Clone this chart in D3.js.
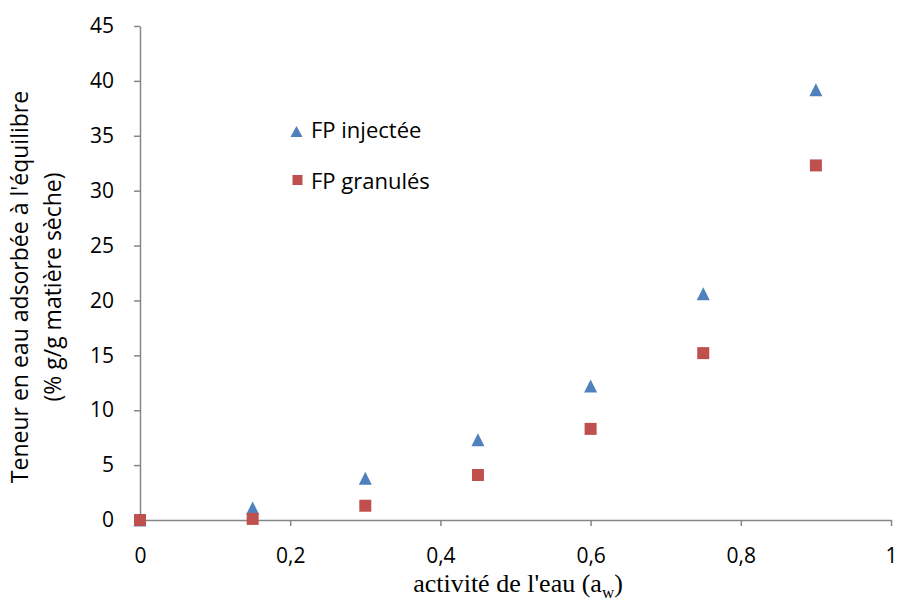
<!DOCTYPE html>
<html>
<head>
<meta charset="utf-8">
<script src="https://cdn.jsdelivr.net/npm/d3@7"></script>
<style>
  body { margin: 0; background: #fff; }
  text { font-family: "Open Sans", "Lato", sans-serif; }
</style>
</head>
<body>
<div id="chart"></div>
<script>
// data
const aw = [0, 0.15, 0.3, 0.45, 0.6, 0.75, 0.9];
const injectee = [0, 1.1, 3.8, 7.3, 12.2, 20.6, 39.2];
const granules = [0, 0.1, 1.3, 4.1, 8.3, 15.2, 32.3];
const xTicks = [0, 0.2, 0.4, 0.6, 0.8, 1];
const yTicks = [0, 5, 10, 15, 20, 25, 30, 35, 40, 45];

let margin = { left: 140, right: 10, top: 26, bottom: 83 };
let width = 901, height = 603;
let chart_width = 891 - margin.left;
let chart_height = 520 - margin.top;

let svg = d3.select("#chart").append("svg")
  .attr("width", width)
  .attr("height", height);

let g = svg.append("g")
  .attr("transform", `translate(${margin.left},${margin.top})`);

let x = d3.scaleLinear().domain([0, 1]).range([0, chart_width]);
let y = d3.scaleLinear().domain([0, 45]).range([chart_height, 0]);

let fmt = d => String(d).replace(".", ",");

//x axis
let xAxis = g.append("g")
  .attr("transform", `translate(0,${chart_height})`)
  .call(d3.axisBottom(x).tickValues(xTicks).tickFormat(fmt).tickSizeInner(6).tickSizeOuter(0));
xAxis.selectAll("text").attr("font-size", "21px").attr("y", 28).attr("fill", "#000");

//y axis
let yAxis = g.append("g")
  .call(d3.axisLeft(y).tickValues(yTicks).tickSizeInner(6).tickSizeOuter(0));
yAxis.selectAll("text").attr("font-size", "21px").attr("x", -26).attr("fill", "#000");

g.selectAll(".domain, .tick line").attr("stroke", "#868686").attr("stroke-width", 1.5);

// triangle marker, a bit taller than equilateral
let tri = (w, h) => `M0,${-h / 2}L${w / 2},${h / 2}L${-w / 2},${h / 2}Z`;

//points
g.append("g").selectAll("path")
  .data(aw.map((a, i) => [a, injectee[i]]))
  .enter().append("path")
  .attr("d", tri(13, 13))
  .attr("transform", d => `translate(${x(d[0])},${y(d[1])})`)
  .attr("fill", "#4F81BD");

g.append("g").selectAll("rect")
  .data(aw.map((a, i) => [a, granules[i]]))
  .enter().append("rect")
  .attr("x", d => x(d[0]) - 6)
  .attr("y", d => y(d[1]) - 6)
  .attr("width", 12)
  .attr("height", 12)
  .attr("fill", "#C0504D");

//legend
let legend = svg.append("g");
legend.append("path").attr("d", tri(12, 11))
  .attr("transform", "translate(296.5,131.5)").attr("fill", "#4F81BD");
legend.append("text").attr("x", 311).attr("y", 138).attr("font-size", "22px").text("FP injectée");
legend.append("rect").attr("x", 292.5).attr("y", 175).attr("width", 10).attr("height", 10).attr("fill", "#C0504D");
legend.append("text").attr("x", 311).attr("y", 189).attr("font-size", "22px").text("FP granulés");

//x label
let xl = svg.append("text")
  .attr("x", 518).attr("y", 592)
  .attr("text-anchor", "middle")
  .attr("font-size", "26px")
  .style("font-family", "'Liberation Serif', 'Times New Roman', serif");
xl.append("tspan").text("activité de l'eau (a");
xl.append("tspan").attr("font-size", "17px").attr("dy", 6).text("w");
xl.append("tspan").attr("dy", -6).text(")");

//y label
let yl = svg.append("text")
  .attr("transform", "translate(0,287) rotate(-90)")
  .attr("text-anchor", "middle")
  .attr("font-size", "23px");
yl.append("tspan").attr("x", 0).attr("y", 28).text("Teneur en eau adsorbée à l'équilibre");
yl.append("tspan").attr("x", 0).attr("y", 61).text("(% g/g matière sèche)");
</script>
</body>
</html>
